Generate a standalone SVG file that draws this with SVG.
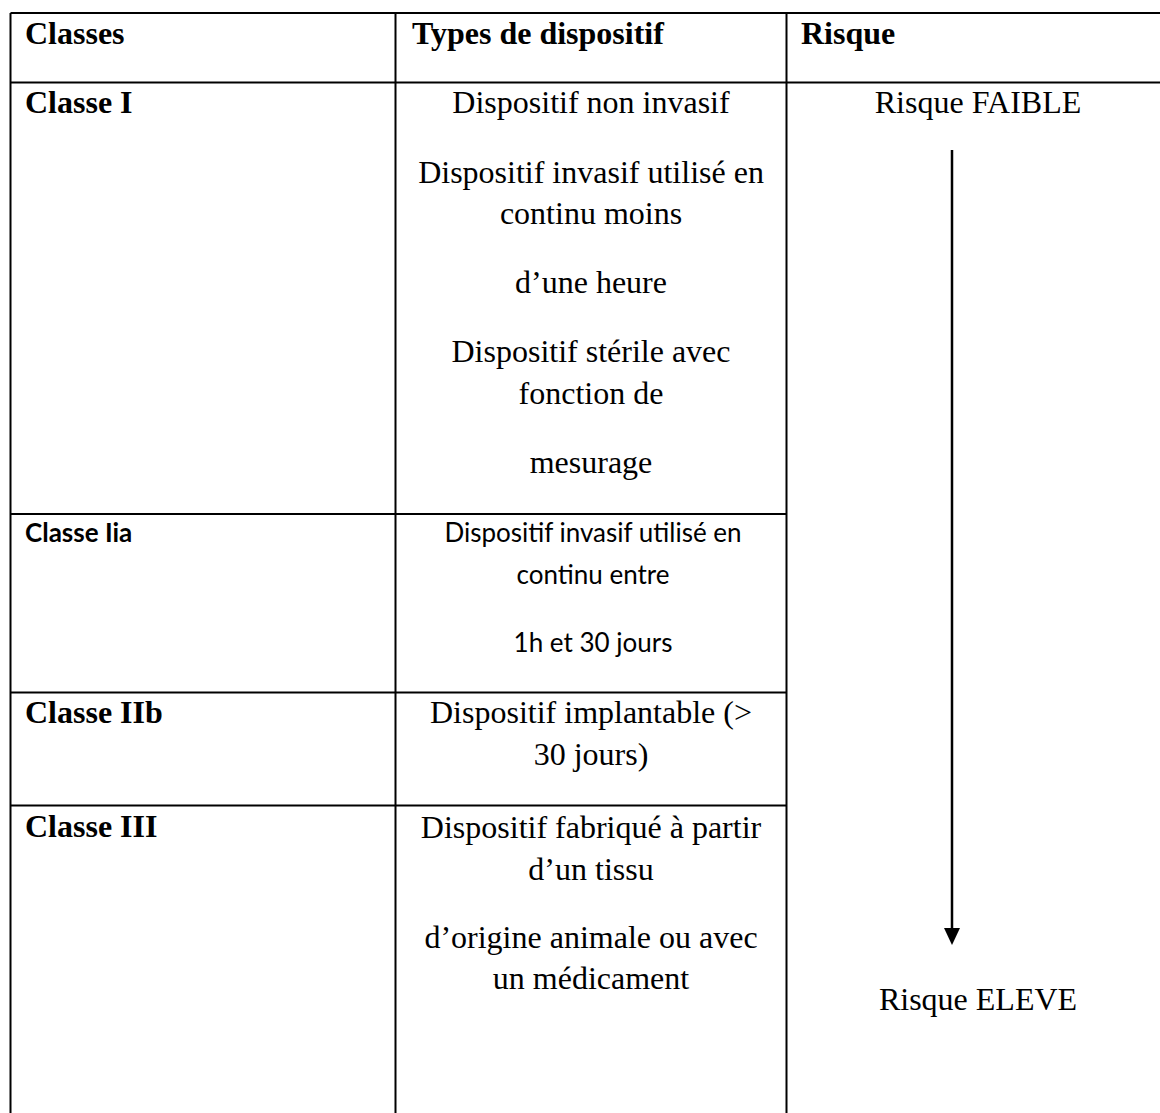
<svg xmlns="http://www.w3.org/2000/svg" width="1160" height="1113" viewBox="0 0 1160 1113">
<style>
.grid{stroke:#000;stroke-width:2;fill:none}
.t{font-family:"Liberation Serif","Times New Roman",serif;font-size:32px;fill:#000}
.tb{font-family:"Liberation Serif","Times New Roman",serif;font-size:32px;font-weight:bold;fill:#000}
.c{font-family:Lato,"Open Sans",sans-serif;font-size:26px;fill:#000}
.cb{font-family:Lato,"Open Sans",sans-serif;font-size:26px;font-weight:bold;fill:#000}
.m{text-anchor:middle}
</style>
<rect width="1160" height="1113" fill="#fff"/>
<g id="table" class="grid">
<line x1="10.5" y1="13" x2="1160" y2="13"/>
<line x1="10.5" y1="13" x2="10.5" y2="1113"/>
<line x1="395.5" y1="13" x2="395.5" y2="1113"/>
<line x1="786.5" y1="13" x2="786.5" y2="1113"/>
<line x1="10.5" y1="82.5" x2="1160" y2="82.5"/>
<line x1="10.5" y1="514" x2="786.5" y2="514"/>
<line x1="10.5" y1="692.5" x2="786.5" y2="692.5"/>
<line x1="10.5" y1="805.5" x2="786.5" y2="805.5"/>
</g>
<g id="header">
<text class="tb" x="25" y="44">Classes</text>
<text class="tb" x="412" y="44">Types de dispositif</text>
<text class="tb" x="801" y="44">Risque</text>
</g>
<g id="classe-I">
<text class="tb" x="25" y="113">Classe I</text>
<text class="t m" x="591" y="113">Dispositif non invasif</text>
<text class="t m" x="591" y="183">Dispositif invasif utilisé en</text>
<text class="t m" x="591" y="224">continu moins</text>
<text class="t m" x="591" y="293">d’une heure</text>
<text class="t m" x="591" y="362">Dispositif stérile avec</text>
<text class="t m" x="591" y="404">fonction de</text>
<text class="t m" x="591" y="473">mesurage</text>
</g>
<g id="classe-IIa">
<text class="cb" x="25" y="542">Classe Iia</text>
<text class="c m" x="593" y="542">Dispositif invasif utilisé en</text>
<text class="c m" x="593" y="584">continu entre</text>
<text class="c m" x="593" y="652">1h et 30 jours</text>
</g>
<g id="classe-IIb">
<text class="tb" x="25" y="723">Classe IIb</text>
<text class="t m" x="591" y="723">Dispositif implantable (&gt;</text>
<text class="t m" x="591" y="765">30 jours)</text>
</g>
<g id="classe-III">
<text class="tb" x="25" y="837">Classe III</text>
<text class="t m" x="591" y="838">Dispositif fabriqué à partir</text>
<text class="t m" x="591" y="880">d’un tissu</text>
<text class="t m" x="591" y="948">d’origine animale ou avec</text>
<text class="t m" x="591" y="989">un médicament</text>
</g>
<g id="risque">
<text class="t m" x="978" y="113">Risque FAIBLE</text>
<text class="t m" x="978" y="1010">Risque ELEVE</text>
</g>
<g id="connectors">
<line x1="952" y1="150" x2="952" y2="929" stroke="#000" stroke-width="2.5"/>
<path d="M944,928 L960,928 L952,945 Z" fill="#000"/>
</g>
</svg>
